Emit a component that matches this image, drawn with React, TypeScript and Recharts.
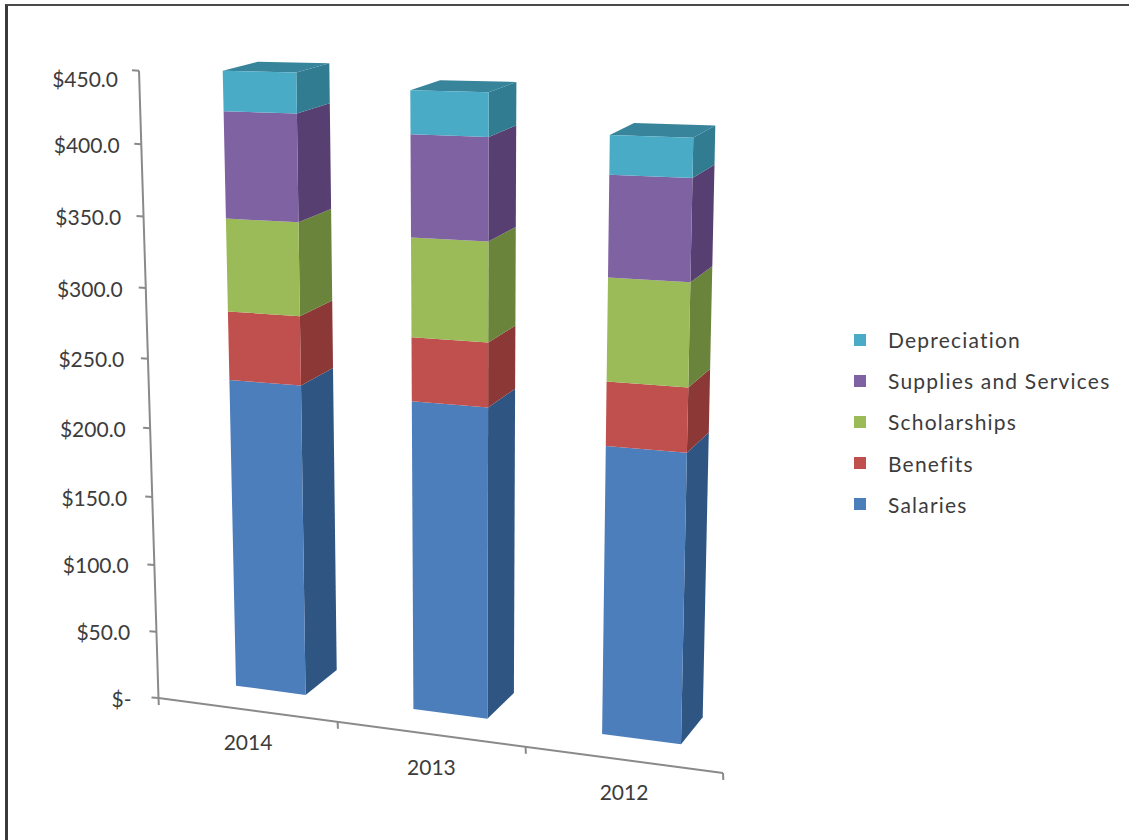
import { BarChart, Bar, XAxis, YAxis, Legend } from "recharts"

const years = ["2014", "2013", "2012"]
const salaries = [228.5, 223.5, 203.5]
const benefits = [49.5, 45, 44]
const scholarships = [66, 69, 70]
const supplies = [75, 70, 68]
const depreciation = [28, 29.5, 26]

const seriesNames = ["Salaries", "Benefits", "Scholarships", "Supplies and Services", "Depreciation"]
const yTicks = [0, 50, 100, 150, 200, 250, 300, 350, 400, 450]

const chartData = years.map((year, i) => ({
  year,
  Salaries: salaries[i],
  Benefits: benefits[i],
  Scholarships: scholarships[i],
  "Supplies and Services": supplies[i],
  Depreciation: depreciation[i],
}))

const faceColors: Record<string, { front: string; side: string; top: string }> = {
  Salaries: { front: "#4c7ebb", side: "#2f5583", top: "#2f5583" },
  Benefits: { front: "#c0504d", side: "#8b3836", top: "#8b3836" },
  Scholarships: { front: "#9bbb59", side: "#6a843c", top: "#6a843c" },
  "Supplies and Services": { front: "#7f62a1", side: "#583f72", top: "#583f72" },
  Depreciation: { front: "#4aabc7", side: "#317c90", top: "#38849b" },
}

const FONT = "Lato, sans-serif"
const TEXT = "#3c3c3c"
const AXIS = "#8a8a8a"

// plot rectangle in flat chart pixels, everything is projected from here
const PLOT_LEFT = 100
const PLOT_RIGHT = 700
const PLOT_TOP = 100
const PLOT_BOTTOM = 700
const valueY = (v: number) => PLOT_BOTTOM - (v / 450) * (PLOT_BOTTOM - PLOT_TOP)

type Pt = [number, number]

// solves the 3x3 homography taking four source points to four screen points
function makeProjection(src: Pt[], dst: Pt[]) {
  const m: number[][] = []
  src.forEach(([x, y], i) => {
    const [u, v] = dst[i]
    m.push([x, y, 1, 0, 0, 0, -u * x, -u * y, u])
    m.push([0, 0, 0, x, y, 1, -v * x, -v * y, v])
  })
  for (let c = 0; c < 8; c++) {
    let p = c
    for (let r = c + 1; r < 8; r++) if (Math.abs(m[r][c]) > Math.abs(m[p][c])) p = r
    ;[m[c], m[p]] = [m[p], m[c]]
    for (let r = 0; r < 8; r++) {
      if (r === c) continue
      const f = m[r][c] / m[c][c]
      for (let k = c; k < 9; k++) m[r][k] -= f * m[c][k]
    }
  }
  const h = m.map((row, i) => row[8] / row[i])
  return (x: number, y: number): Pt => {
    const w = h[6] * x + h[7] * y + 1
    return [(h[0] * x + h[1] * y + h[2]) / w, (h[3] * x + h[4] * y + h[5]) / w]
  }
}

// front faces of the columns
const front = makeProjection(
  [[160, valueY(0)], [640, valueY(0)], [160, valueY(447)], [640, valueY(410)]],
  [[236, 685.7], [681, 744.3], [222.7, 70.7], [693.3, 140]]
)
// back faces of the columns
const back = makeProjection(
  [[240, valueY(0)], [640, valueY(0)], [240, valueY(447)], [640, valueY(410)]],
  [[336.7, 670], [702.7, 717.3], [329.3, 63.3], [715.3, 127.7]]
)
// plane holding the two axis lines
const wall = makeProjection(
  [[PLOT_LEFT, PLOT_BOTTOM], [PLOT_RIGHT, PLOT_BOTTOM], [PLOT_LEFT, PLOT_TOP], [PLOT_RIGHT, PLOT_TOP]],
  [[158.5, 698], [723, 773], [139, 70.7], [739, 100]]
)

const poly = (pts: Pt[]) => pts.map((p) => `${p[0].toFixed(1)},${p[1].toFixed(1)}`).join(" ")

function Column(props: any) {
  const { x, y, width, height, colors, withTop } = props
  const fl = front(x, y)
  const fr = front(x + width, y)
  const br = front(x + width, y + height)
  const bl = front(x, y + height)
  const backTopRight = back(x + width, y)
  const backBottomRight = back(x + width, y + height)
  const backTopLeft = back(x, y)
  return (
    <g>
      <polygon points={poly([fr, br, backBottomRight, backTopRight])} fill={colors.side} />
      {withTop && <polygon points={poly([fl, fr, backTopRight, backTopLeft])} fill={colors.top} />}
      <polygon points={poly([fl, fr, br, bl])} fill={colors.front} />
    </g>
  )
}

function ValueTick({ y, payload }: any) {
  const [px, py] = wall(PLOT_LEFT, y)
  // labels sit a little further from the axis towards the floor
  const lx = px - 21 - 6 * (1 - payload.value / 450)
  const ly = Math.max(py, 78)
  const text = payload.value === 0 ? "$-" : `$${payload.value.toFixed(1)}`
  return (
    <g>
      <line x1={px} y1={py} x2={px - 7} y2={py - 0.5} stroke={AXIS} strokeWidth={2} />
      <text x={lx} y={ly} textAnchor="end" dominantBaseline="central" fontFamily={FONT} fontSize={21} fill={TEXT}>
        {text}
      </text>
    </g>
  )
}

function YearTick({ x, payload }: any) {
  const [px, py] = wall(x, PLOT_BOTTOM)
  return (
    <text x={px + 1} y={py + 32} textAnchor="middle" dominantBaseline="central" fontFamily={FONT} fontSize={21} fill={TEXT}>
      {payload.value}
    </text>
  )
}

// the two axis lines and the category boundary ticks
function AxisLines() {
  const origin = wall(PLOT_LEFT, PLOT_BOTTOM)
  const yEnd = wall(PLOT_LEFT, PLOT_TOP)
  const xEnd = wall(PLOT_RIGHT, PLOT_BOTTOM)
  const band = (PLOT_RIGHT - PLOT_LEFT) / years.length
  return (
    <g>
      <line x1={origin[0]} y1={origin[1]} x2={yEnd[0]} y2={yEnd[1]} stroke={AXIS} strokeWidth={2} />
      <line x1={origin[0]} y1={origin[1]} x2={xEnd[0]} y2={xEnd[1]} stroke={AXIS} strokeWidth={2} />
      {[0, 1, 2, 3].map((i) => {
        const [tx, ty] = wall(PLOT_LEFT + i * band, PLOT_BOTTOM)
        return <line key={i} x1={tx} y1={ty} x2={tx + 0.3} y2={ty + 7} stroke={AXIS} strokeWidth={2} />
      })}
    </g>
  )
}

function LegendList({ payload }: any) {
  const items = [...(payload ?? [])].sort(
    (a: any, b: any) => seriesNames.indexOf(b.value) - seriesNames.indexOf(a.value)
  )
  return (
    <div style={{ fontFamily: FONT, fontSize: 21, color: TEXT }}>
      {items.map((item: any) => (
        <div key={item.value} style={{ display: "flex", alignItems: "center", height: 41.2, whiteSpace: "nowrap" }}>
          <span style={{ width: 12, height: 12, background: item.color, marginRight: 22 }} />
          <span style={{ letterSpacing: 1.2 }}>{item.value}</span>
        </div>
      ))}
    </div>
  )
}

export default function App() {
  return (
    <div
      style={{
        position: "absolute",
        left: 0,
        top: 0,
        width: 1129,
        height: 840,
        background: "#fff",
        overflow: "hidden",
      }}
    >
      <div style={{ position: "absolute", left: 5, top: 4, width: 1124, height: 836, borderLeft: "3px solid #3a3a3a", borderTop: "2px solid #4a4a4a" }} />
      <BarChart
        width={1129}
        height={840}
        data={chartData}
        barSize={80}
        margin={{ left: PLOT_LEFT - 1, right: 1129 - PLOT_RIGHT, top: PLOT_TOP, bottom: 840 - PLOT_BOTTOM - 1 }}
      >
        <XAxis dataKey="year" height={1} axisLine={false} tickLine={false} tick={<YearTick />} interval={0} />
        <YAxis
          width={1}
          domain={[0, 450]}
          ticks={yTicks}
          interval={0}
          axisLine={false}
          tickLine={false}
          tick={<ValueTick />}
        />
        <AxisLines />
        {seriesNames.map((name) => (
          <Bar
            key={name}
            dataKey={name}
            stackId="total"
            fill={faceColors[name].front}
            isAnimationActive={false}
            shape={(p: any) => <Column {...p} colors={faceColors[name]} withTop={name === "Depreciation"} />}
          />
        ))}
        <Legend
          layout="horizontal"
          align="center"
          verticalAlign="middle"
          content={<LegendList />}
          wrapperStyle={{ left: 854, top: 319, width: 270 }}
        />
      </BarChart>
    </div>
  )
}
